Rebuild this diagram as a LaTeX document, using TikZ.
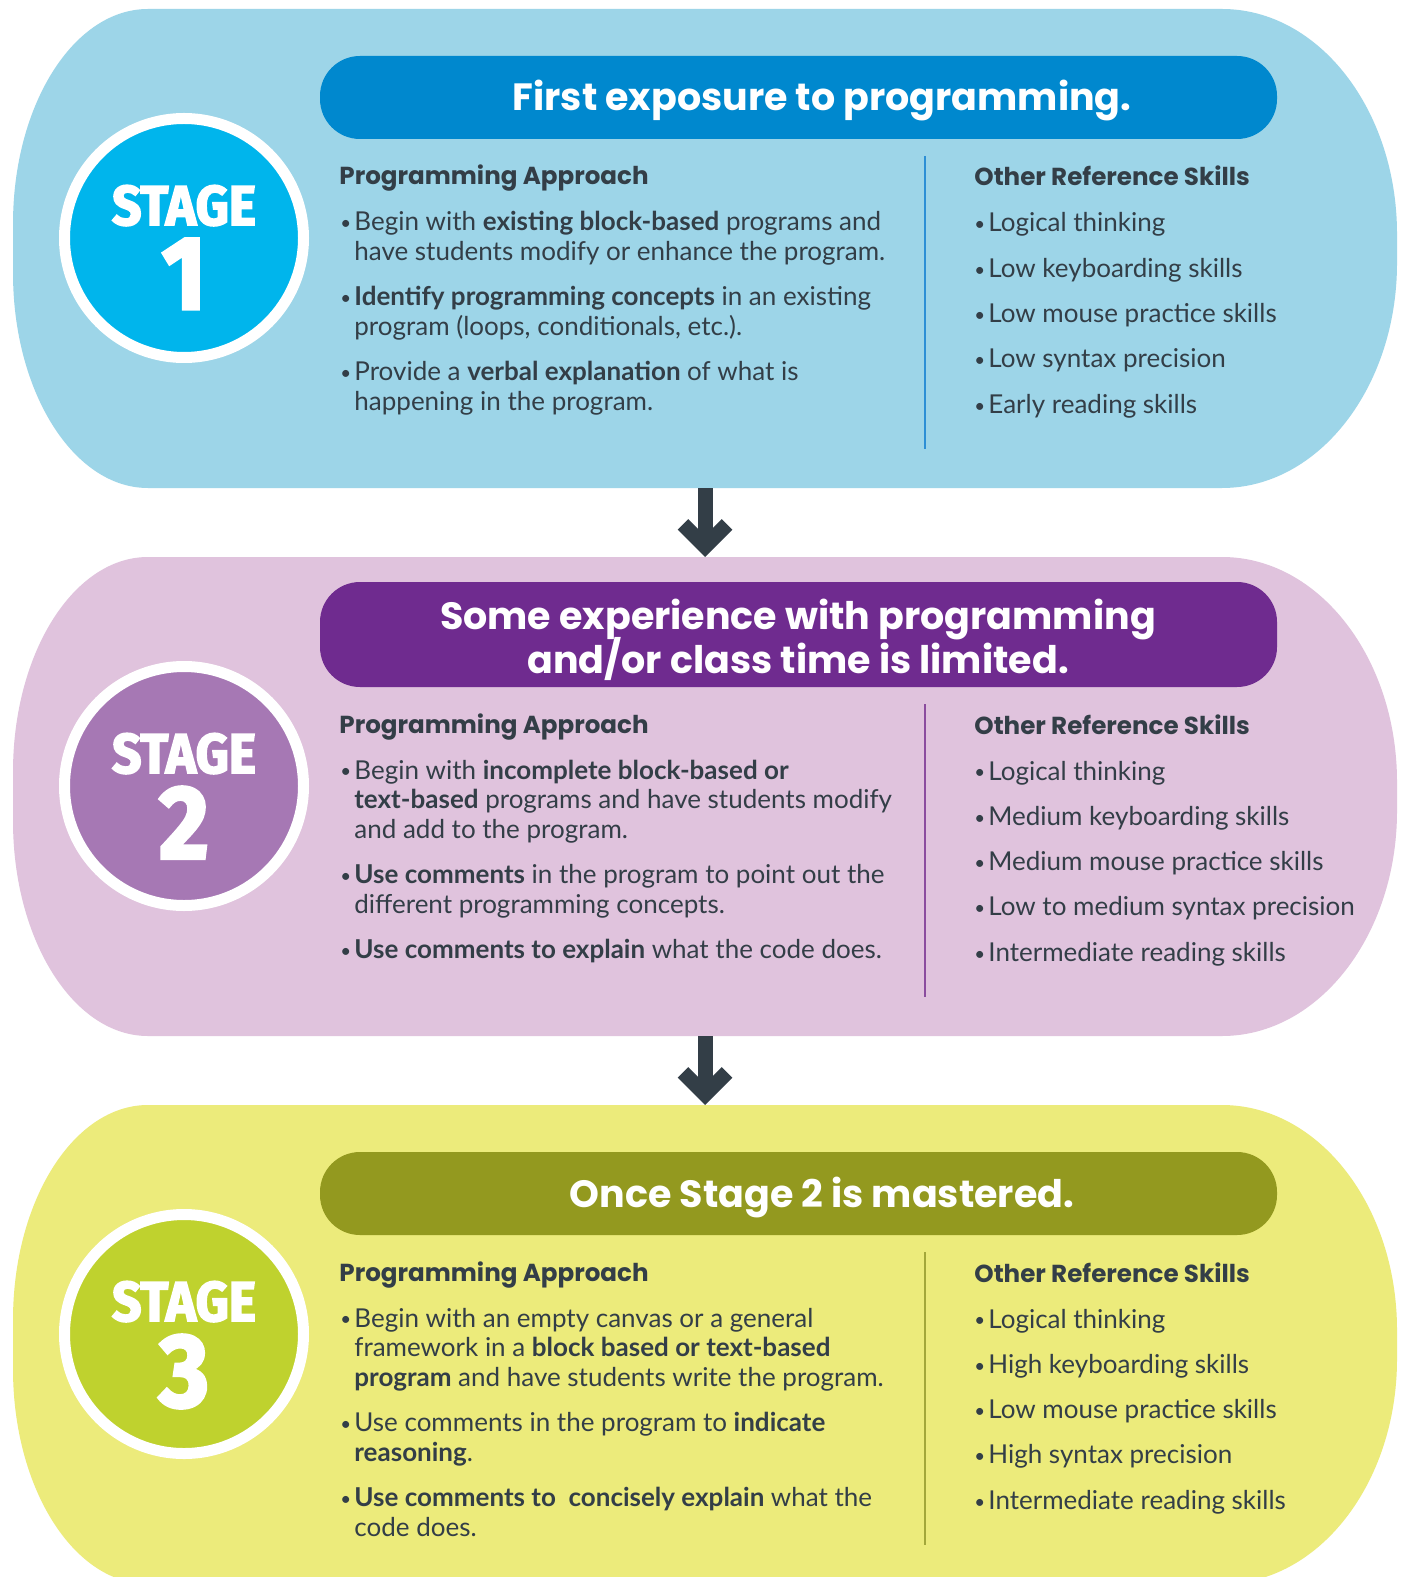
\documentclass[tikz,border=0pt]{standalone}
\usepackage{fontspec}
\setmainfont{Lato}
\newfontfamily\headfont{Poppins}
\newfontfamily\stagefont[FakeStretch=0.92,FakeBold=3]{Fira Sans}
\usetikzlibrary{arrows.meta,positioning}
\definecolor{ink}{HTML}{333E47}
\definecolor{oneback}{HTML}{9DD5E8}
\definecolor{onebar}{HTML}{0088CE}
\definecolor{onedisc}{HTML}{00B5EC}
\definecolor{oneline}{HTML}{2D8FD5}
\definecolor{twoback}{HTML}{E0C3DD}
\definecolor{twobar}{HTML}{6F2B8F}
\definecolor{twodisc}{HTML}{A678B4}
\definecolor{twoline}{HTML}{8B4C9E}
\definecolor{threeback}{HTML}{ECEB7B}
\definecolor{threebar}{HTML}{93991F}
\definecolor{threedisc}{HTML}{BFD22E}
\definecolor{threeline}{HTML}{A3A73A}
\newcommand\bul{\makebox[7pt][l]{\raisebox{0.6pt}{\scalebox{0.72}{\textbullet}}}}
\newcommand\bulletpar[1]{\par\hangindent=7pt\hangafter=1\noindent\bul#1\par}
\newcommand\pointlist[3]{\parbox[t]{320pt}{\raggedright
  \bulletpar{#1}\vspace{8pt}\bulletpar{#2}\vspace{8pt}\bulletpar{#3}}}
\tikzset{
  titlebar/.style={
    rounded corners=20pt,
    minimum width=478.5pt,
    inner sep=0pt
  },
  titletext/.style={
    text=white,
    inner sep=0pt,
    font=\headfont\bfseries\fontsize{19}{22}\selectfont
  },
  disc/.style={
    circle,
    draw=white,
    line width=5.5pt,
    minimum size=119.5pt,
    inner sep=0pt
  },
  stageword/.style={
    text=white,
    inner sep=0pt,
    font=\stagefont\bfseries\fontsize{28}{28}\selectfont
  },
  stagenum/.style={
    text=white,
    inner sep=0pt,
    font=\stagefont\bfseries\fontsize{52}{52}\selectfont
  },
  colhead/.style={
    text=ink,
    inner sep=0pt,
    font=\headfont\bfseries\fontsize{12.3}{14}\selectfont
  },
  bodytext/.style={
    text=ink,
    inner sep=0pt,
    font=\fontsize{13}{14.75}\selectfont
  },
  divider/.style={
    line width=1pt
  },
  flowarrow/.style={
    -{Straight Barb[length=11pt,width=22pt]},
    line width=7.5pt,
    draw=ink
  }
}

\begin{document}
\begin{tikzpicture}[x=0.5pt,y=-0.5pt]
  \fill[white] (0,0) rectangle (1403,1577);
  \useasboundingbox (0,0) rectangle (1403,1577);
  % the three rounded panels
  \foreach \oy/\tone in {0/oneback,548/twoback,1096/threeback} {
    \fill[\tone] (148,9+\oy) -- (1222,9+\oy)
      arc[start angle=-90, end angle=0, x radius=175, y radius=225]
      -- (1397,263+\oy)
      arc[start angle=0, end angle=90, x radius=175, y radius=225]
      -- (148,488+\oy)
      arc[start angle=90, end angle=180, x radius=135, y radius=215]
      -- (13,224+\oy)
      arc[start angle=180, end angle=270, x radius=135, y radius=215]
      -- cycle;
  }

  % stage 1
  \node[titlebar, fill=onebar, minimum height=41.5pt] (s1bar) at (798.5,97.5) {};
  \node[titletext, anchor=base] (s1title) at (822,111) {First exposure to programming.};
  \node[disc, fill=onedisc] (s1disc) at (184,238) {};
  \node[stageword, anchor=base] (s1word) at (184,225) {STAGE};
  \node[stagenum, below=6pt of s1word] (s1num) {1};
  \node[colhead, anchor=base west] (s1apphead) at (339,185) {Programming Approach};
  \node[bodytext, anchor=base west] (s1list) at (340,231) {\pointlist
    {Begin with \textbf{existing block-based} programs and\newline have students modify or enhance the program.}
    {\textbf{Identify programming concepts} in an existing\newline program (loops, conditionals, etc.).}
    {Provide a \textbf{verbal explanation} of what is\newline happening in the program.}};
  \draw[divider, draw=oneline] (925,156) -- (925,449);
  \node[colhead, anchor=base west] (s1skillhead) at (974,186) {Other Reference Skills};
  \foreach \s [count=\i from 0] in {Logical thinking,Low keyboarding skills,Low mouse practice skills,Low syntax precision,Early reading skills}
    \node[bodytext, anchor=base west] (s1skill\i) at (974,232+45.3*\i) {\bul\s};

  % stage 2
  \begin{scope}[yshift=-274pt]
  \node[titlebar, fill=twobar, minimum height=52.5pt] (s2bar) at (798.5,86.5) {};
  \node[titletext, anchor=base] (s2title) at (798,81) {\parbox[t]{470pt}{\centering
    \lineskiplimit=-20pt
    Some experience with programming\\and/or class time is limited.}};
  \node[disc, fill=twodisc] (s2disc) at (184,238) {};
  \node[stageword, anchor=base] (s2word) at (184,225) {STAGE};
  \node[stagenum, below=6pt of s2word] (s2num) {2};
  \node[colhead, anchor=base west] (s2apphead) at (339,185) {Programming Approach};
  \node[bodytext, anchor=base west] (s2list) at (340,231) {\pointlist
    {Begin with \textbf{incomplete block-based or}\newline \textbf{text-based} programs and have students modify\newline and add to the program.}
    {\textbf{Use comments} in the program to point out the\newline different programming concepts.}
    {\textbf{Use comments to explain} what the code does.}};
  \draw[divider, draw=twoline] (925,156) -- (925,449);
  \node[colhead, anchor=base west] (s2skillhead) at (974,186) {Other Reference Skills};
  \foreach \s [count=\i from 0] in {Logical thinking,Medium keyboarding skills,Medium mouse practice skills,Low to medium syntax precision,Intermediate reading skills}
    \node[bodytext, anchor=base west] (s2skill\i) at (974,232+45.3*\i) {\bul\s};
  \end{scope}

  % stage 3
  \begin{scope}[yshift=-548pt]
  \node[titlebar, fill=threebar, minimum height=41.5pt] (s3bar) at (798.5,97.5) {};
  \node[titletext, anchor=base] (s3title) at (822,111) {Once Stage 2 is mastered.};
  \node[disc, fill=threedisc] (s3disc) at (184,238) {};
  \node[stageword, anchor=base] (s3word) at (184,225) {STAGE};
  \node[stagenum, below=6pt of s3word] (s3num) {3};
  \node[colhead, anchor=base west] (s3apphead) at (339,185) {Programming Approach};
  \node[bodytext, anchor=base west] (s3list) at (340,231) {\pointlist
    {Begin with an empty canvas or a general\newline framework in a \textbf{block based or text-based}\newline \textbf{program} and have students write the program.}
    {Use comments in the program to \textbf{indicate}\newline \textbf{reasoning}.}
    {\textbf{Use comments to\ \ concisely explain} what the\newline code does.}};
  \draw[divider, draw=threeline] (925,156) -- (925,449);
  \node[colhead, anchor=base west] (s3skillhead) at (974,186) {Other Reference Skills};
  \foreach \s [count=\i from 0] in {Logical thinking,High keyboarding skills,Low mouse practice skills,High syntax precision,Intermediate reading skills}
    \node[bodytext, anchor=base west] (s3skill\i) at (974,232+45.3*\i) {\bul\s};
  \end{scope}

  % arrows between the panels
  \coordinate (s1foot) at (705,488);
  \coordinate (s2top) at (705,557);
  \coordinate (s2foot) at (705,1036);
  \coordinate (s3top) at (705,1105);
  \foreach \a/\b in {s1foot/s2top,s2foot/s3top} {
    \draw[flowarrow] (\a) -- (\b);
  }
\end{tikzpicture}
\end{document}
